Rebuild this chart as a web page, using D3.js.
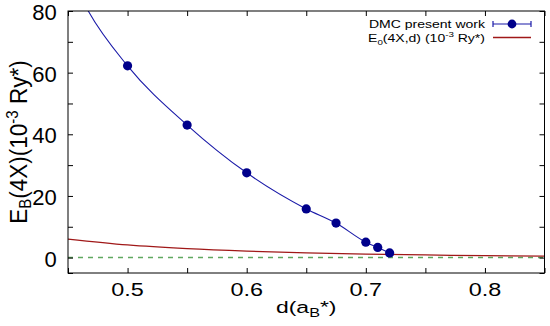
<!DOCTYPE html>
<html>
<head>
<meta charset="utf-8">
<script src="https://cdn.jsdelivr.net/npm/d3@7"></script>
<style>
  body { margin: 0; background: #fff; }
  text { font-family: "Liberation Sans", Arial, sans-serif; fill: #000; }
</style>
</head>
<body>
<div id="graph"></div>
<script>
// Data
const dmcD = [0.5, 0.55, 0.6, 0.65, 0.675, 0.7, 0.71, 0.72];
const dmcE = [62.2, 43.0, 27.5, 15.8, 11.2, 5.0, 3.3, 1.5];

// fitted curve through the DMC points (runs off the top at ~0.467)
const fitD = [0.455, 0.467, 0.5, 0.55, 0.6, 0.65, 0.675, 0.7, 0.71, 0.72];
const fitE = [89, 80, 62.2, 43.0, 27.5, 15.8, 11.2, 5.0, 3.3, 1.5];

// E0(4X,d) curve
const e0D = [0.45, 0.5, 0.55, 0.6, 0.65, 0.7, 0.75, 0.8, 0.85];
const e0E = [6.0, 4.1, 2.9, 2.1, 1.55, 1.15, 0.85, 0.62, 0.45];

const xTicks = [0.5, 0.6, 0.7, 0.8];
const xMinor = [0.45, 0.5, 0.55, 0.6, 0.65, 0.7, 0.75, 0.8, 0.85];
const yTicks = [0, 20, 40, 60, 80];
const yMinor = [-5, 0, 10, 20, 30, 40, 50, 60, 70, 80];

// Layout
const W = 550, H = 326;
const margin = { top: 11, right: 5.5, bottom: 53, left: 68 };
const width = W - margin.left - margin.right;
const height = H - margin.top - margin.bottom;

const svg = d3.select('#graph')
  .append('svg')
  .attr('width', W)
  .attr('height', H);

const g = svg.append('g')
  .attr('transform', `translate(${margin.left}, ${margin.top})`);

const xScale = d3.scaleLinear().domain([0.45, 0.85]).range([0, width]);
const yScale = d3.scaleLinear().domain([-5, 80]).range([height, 0]);

g.append('clipPath').attr('id', 'clip')
  .append('rect').attr('width', width).attr('height', height);

const plot = g.append('g').attr('clip-path', 'url(#clip)');

// zero line
plot.append('line')
  .attr('x1', 0).attr('x2', width)
  .attr('y1', yScale(0)).attr('y2', yScale(0))
  .attr('stroke', '#5fa85f')
  .attr('stroke-width', 1.5)
  .attr('stroke-dasharray', '5,5');

// E0 curve
const e0 = e0D.map((d, i) => ({ d: d, e: e0E[i] }));
plot.append('path')
  .datum(e0)
  .attr('fill', 'none')
  .attr('stroke', '#a01818')
  .attr('stroke-width', 1.3)
  .attr('d', d3.line().x(p => xScale(p.d)).y(p => yScale(p.e)).curve(d3.curveMonotoneX));

// fit curve
const fit = fitD.map((d, i) => ({ d: d, e: fitE[i] }));
plot.append('path')
  .datum(fit)
  .attr('fill', 'none')
  .attr('stroke', '#1a1aa8')
  .attr('stroke-width', 1.1)
  .attr('d', d3.line().x(p => xScale(p.d)).y(p => yScale(p.e)).curve(d3.curveMonotoneX));

// DMC points
const dmc = dmcD.map((d, i) => ({ d: d, e: dmcE[i] }));
plot.selectAll('.pt')
  .data(dmc)
  .enter()
  .append('circle')
  .attr('class', 'pt')
  .attr('cx', p => xScale(p.d))
  .attr('cy', p => yScale(p.e))
  .attr('r', 4.6)
  .attr('fill', '#00008b');

// Axes with inward ticks on all four sides
const tickLen = 5;
const axB = g.append('g').attr('transform', `translate(0, ${height})`)
  .call(d3.axisBottom(xScale).tickValues(xMinor).tickSize(-tickLen).tickFormat(''));
const axT = g.append('g')
  .call(d3.axisTop(xScale).tickValues(xMinor).tickSize(-tickLen).tickFormat(''));
const axL = g.append('g')
  .call(d3.axisLeft(yScale).tickValues(yMinor).tickSize(-tickLen).tickFormat(''));
const axR = g.append('g').attr('transform', `translate(${width}, 0)`)
  .call(d3.axisRight(yScale).tickValues(yMinor).tickSize(-tickLen).tickFormat(''));
[axB, axT, axL, axR].forEach(a => {
  a.select('.domain').remove();
  a.selectAll('line').attr('stroke', '#000');
});

// frame
g.append('rect')
  .attr('width', width).attr('height', height)
  .attr('fill', 'none').attr('stroke', '#000').attr('stroke-width', 1);

// tick labels (the original figure is a bit stretched sideways)
g.selectAll('.xl')
  .data(xTicks)
  .enter()
  .append('text')
  .attr('transform', d => `translate(${xScale(d)}, ${height + 23}) scale(1.3, 1)`)
  .attr('text-anchor', 'middle')
  .style('font-size', '18px')
  .text(d => d3.format('.1f')(d));

g.selectAll('.yl')
  .data(yTicks)
  .enter()
  .append('text')
  .attr('x', -11.3)
  .attr('y', d => yScale(d) + 9)
  .attr('text-anchor', 'end')
  .style('font-size', '22px')
  .text(d => d);

// axis titles
const xt = svg.append('text')
  .attr('transform', `translate(${margin.left + width / 2}, 313) scale(1.35, 1)`)
  .attr('text-anchor', 'middle')
  .style('font-size', '17px');
xt.append('tspan').text('d(a');
xt.append('tspan').attr('dy', 4).style('font-size', '12px').text('B');
xt.append('tspan').attr('dy', -4).text('*)');

const yt = svg.append('text')
  .attr('transform', `translate(27, ${margin.top + height / 2}) rotate(-90) scale(1, 1.1)`)
  .attr('text-anchor', 'middle')
  .style('font-size', '22.5px');
yt.append('tspan').text('E');
yt.append('tspan').attr('dy', 3.5).style('font-size', '15px').text('B');
yt.append('tspan').attr('dy', -3.5).text('(4X)(10');
yt.append('tspan').attr('dy', -8).style('font-size', '15px').text('-3');
yt.append('tspan').attr('dy', 8).text(' Ry*)');

// legend
const lg = svg.append('g');
const lx0 = 493, lx1 = 531;
const row1 = 24, row2 = 37.5;

lg.append('text')
  .attr('transform', `translate(485, ${row1 + 4.2}) scale(1.22, 1)`)
  .attr('text-anchor', 'end')
  .style('font-size', '11.5px')
  .text('DMC present work');
lg.append('line').attr('x1', lx0).attr('x2', lx1).attr('y1', row1).attr('y2', row1)
  .attr('stroke', '#1a1aa8').attr('stroke-width', 1.2);
[lx0, lx1].forEach(x => {
  lg.append('line').attr('x1', x).attr('x2', x).attr('y1', row1 - 3).attr('y2', row1 + 3)
    .attr('stroke', '#1a1aa8').attr('stroke-width', 1.2);
});
lg.append('circle').attr('cx', (lx0 + lx1) / 2).attr('cy', row1).attr('r', 4.4).attr('fill', '#00008b');

const t2 = lg.append('text')
  .attr('transform', `translate(485, ${row2 + 4.2}) scale(1.22, 1)`)
  .attr('text-anchor', 'end')
  .style('font-size', '11.5px');
t2.append('tspan').text('E');
t2.append('tspan').attr('dy', 3).style('font-size', '8px').text('0');
t2.append('tspan').attr('dy', -3).text('(4X,d) (10');
t2.append('tspan').attr('dy', -4.5).style('font-size', '8px').text('-3');
t2.append('tspan').attr('dy', 4.5).text(' Ry*)');
lg.append('line').attr('x1', lx0).attr('x2', lx1).attr('y1', row2).attr('y2', row2)
  .attr('stroke', '#a01818').attr('stroke-width', 1.3);
</script>
</body>
</html>
